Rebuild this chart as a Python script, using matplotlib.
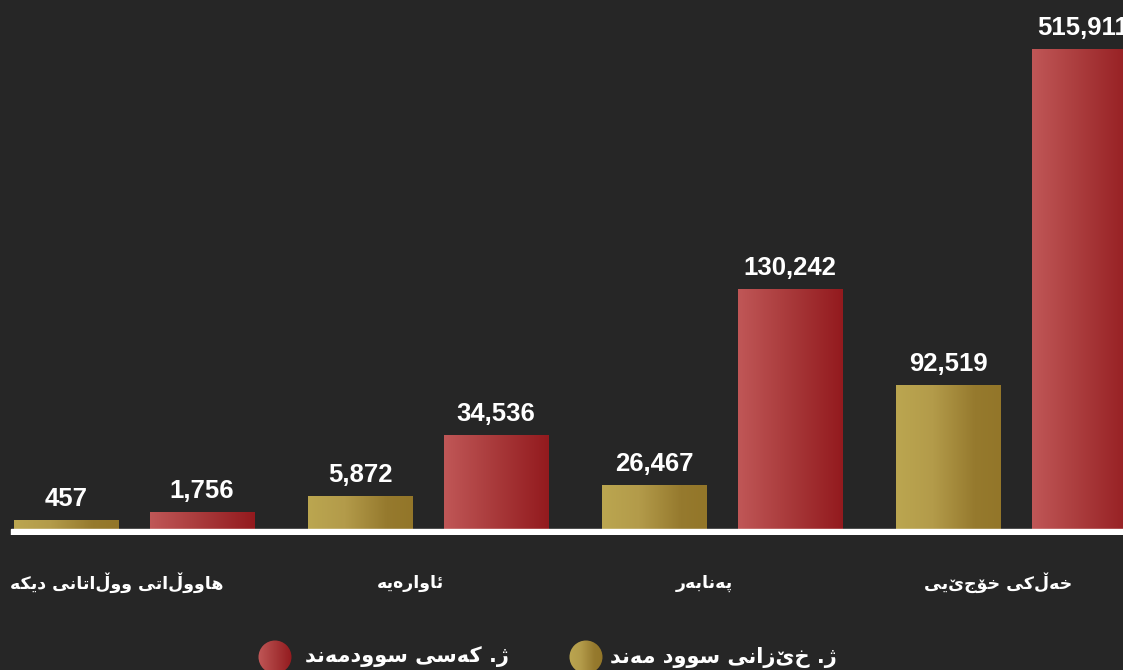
import numpy as np
import matplotlib
matplotlib.use("Agg")
import matplotlib.pyplot as plt
from matplotlib.colors import LinearSegmentedColormap
from matplotlib.patches import Circle

# data
categories = ["هاووڵاتی ووڵاتانی دیکە", "ئاوارەیە", "پەنابەر", "خەڵکی خۆجێیی"]
families = [457, 5872, 26467, 92519]          # ژ. خێزانی سوود مەند
persons = [1756, 34536, 130242, 515911]       # ژ. کەسی سوودمەند
# bar heights as drawn in the picture (percent of the tallest bar)
families_level = [1.9, 6.9, 9.2, 30.0]
persons_level = [3.5, 19.6, 50.0, 100.0]
legend_labels = ["ژ. کەسی سوودمەند", "ژ. خێزانی سوود مەند"]

BG = "#262626"
gold_cm = LinearSegmentedColormap.from_list("gold", [(0, "#bba650"), (0.35, "#b39b4a"), (0.75, "#967a2e"), (1, "#937629")])
red_cm = LinearSegmentedColormap.from_list("red", [(0, "#c05757"), (0.5, "#a8393a"), (1, "#931a1e")])

# --- tiny arabic shaping (matplotlib draws glyphs left to right, unshaped)
DUAL = {
    "\u062E": (0xFEA5, 0xFEA6, 0xFEA7, 0xFEA8), "\u06A9": (0xFB8E, 0xFB8F, 0xFB90, 0xFB91),
    "\u06CC": (0xFBFC, 0xFBFD, 0xFBFE, 0xFBFF), "\u062C": (0xFE9D, 0xFE9E, 0xFE9F, 0xFEA0),
    "\u067E": (0xFB56, 0xFB57, 0xFB58, 0xFB59), "\u0646": (0xFEE5, 0xFEE6, 0xFEE7, 0xFEE8),
    "\u0628": (0xFE8F, 0xFE90, 0xFE91, 0xFE92), "\u0626": (0xFE89, 0xFE8A, 0xFE8B, 0xFE8C),
    "\u0647": (0xFEE9, 0xFEEA, 0xFEEB, 0xFEEC), "\u062A": (0xFE95, 0xFE96, 0xFE97, 0xFE98),
    "\u0633": (0xFEB1, 0xFEB2, 0xFEB3, 0xFEB4), "\u0645": (0xFEE1, 0xFEE2, 0xFEE3, 0xFEE4),
}
RIGHT = {
    "\u06D5": (0xFEE9, 0xFEEA), "\u06C6": (0xFBD9, 0xFBDA), "\u0627": (0xFE8D, 0xFE8E),
    "\u0631": (0xFEAD, 0xFEAE), "\u0648": (0xFEED, 0xFEEE), "\u062F": (0xFEA9, 0xFEAA),
    "\u0698": (0xFB8A, 0xFB8B), "\u0632": (0xFEAF, 0xFEB0),
}


def shape(text):
    out = []
    for i, ch in enumerate(text):
        prev = text[i - 1] if i > 0 else ""
        nxt = text[i + 1] if i < len(text) - 1 else ""
        jp = prev in DUAL and (ch in DUAL or ch in RIGHT)
        jn = ch in DUAL and (nxt in DUAL or nxt in RIGHT)
        if ch in DUAL:
            f = DUAL[ch]
            code = f[3] if jp and jn else f[1] if jp else f[2] if jn else f[0]
            out.append(chr(code))
        elif ch in RIGHT:
            f = RIGHT[ch]
            out.append(chr(f[1] if jp else f[0]))
        else:
            out.append(ch)
    return "".join(reversed(out))


fig = plt.figure(figsize=(11.23, 6.70), dpi=100, facecolor=BG)
ax = fig.add_axes([10 / 1123, (670 - 535) / 670, 1 - 10 / 1123, 535 / 670])
ax.set_facecolor(BG)
for s in ax.spines.values():
    s.set_visible(False)
ax.set_xticks([])
ax.set_yticks([])

x = np.arange(len(categories))
off = 0.23
w = 0.354
ylim = (-1.25, 110.2)
xlim = (-0.4218, 3.364)


def grad_bars(xs, levels, cmap):
    bars = ax.bar(xs, levels, width=w, color="none", zorder=2)
    grad = np.linspace(0, 1, 256).reshape(1, -1)
    for b in bars:
        im = ax.imshow(grad, cmap=cmap, aspect="auto", zorder=2,
                       extent=[b.get_x(), b.get_x() + b.get_width(), 0, b.get_height()])
        im.set_clip_path(b)
    return bars


gb = grad_bars(x - off, families_level, gold_cm)
rb = grad_bars(x + off, persons_level, red_cm)

for bars, vals in ((gb, families), (rb, persons)):
    for b, v in zip(bars, vals):
        ax.annotate(f"{v:,}", (b.get_x() + b.get_width() / 2, b.get_height()),
                    xytext=(0, 10), textcoords="offset points", ha="center", va="baseline",
                    color="white", fontsize=18.5, fontweight="bold",
                    family=["Liberation Sans", "DejaVu Sans"], zorder=4)

ax.axhspan(ylim[0], 0, xmin=0.001, color="white", zorder=3)
ax.set_xlim(*xlim)
ax.set_ylim(*ylim)

# category labels under the axis
for i, c in enumerate(categories):
    ax.annotate(shape(c), (i - 0.06, 0), xytext=(0, -39), textcoords="offset points",
                ha="center", va="center", color="white", fontsize=12.5, fontweight="bold",
                family=["DejaVu Sans"], annotation_clip=False)

# legend: gradient circles + text
lax = fig.add_axes([0, 0, 1, 1])
lax.set_xlim(0, 1123)
lax.set_ylim(670, 0)
lax.axis("off")
lax.patch.set_alpha(0)
for cx, tx, cmap, lab in ((275, 305, red_cm, legend_labels[0]), (586, 610, gold_cm, legend_labels[1])):
    circ = Circle((cx, 657), 16.5, facecolor="none", edgecolor="none")
    lax.add_patch(circ)
    im = lax.imshow(np.linspace(0, 1, 256).reshape(1, -1), cmap=cmap, aspect="auto",
                    extent=[cx - 17, cx + 17, 674, 640])
    im.set_clip_path(circ)
    lax.text(tx, 657, shape(lab), ha="left", va="center", color="white", fontsize=15,
             fontweight="bold", family=["DejaVu Sans"])
lax.set_xlim(0, 1123)
lax.set_ylim(670, 0)

fig.savefig("out.png", dpi=100, facecolor=BG)
